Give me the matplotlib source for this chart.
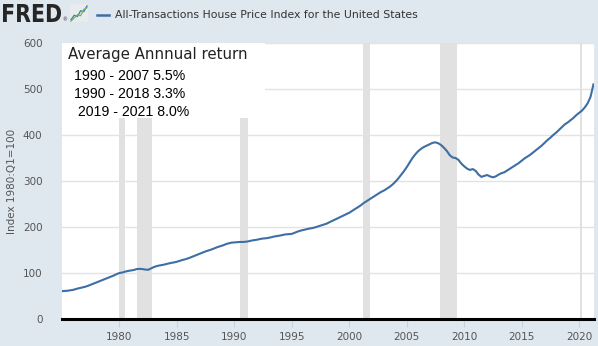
"""FRED-style chart: All-Transactions House Price Index for the United States."""

import matplotlib
matplotlib.use("Agg")
import matplotlib.pyplot as plt
import numpy as np
from matplotlib.font_manager import FontProperties
from matplotlib.patches import PathPatch
from matplotlib.textpath import TextPath
from matplotlib.transforms import Affine2D

# --- data: quarterly index values (1980:Q1 = 100), 1975Q1 .. 2021Q2 ---
START_YEAR = 1975
hpi = [
    60.5, 61.0, 61.5, 62.5,      # 1975
    63.5, 65.5, 67.0, 68.5,      # 1976
    70.0, 72.0, 74.5, 77.0,      # 1977
    79.5, 82.0, 84.5, 87.0,      # 1978
    89.5, 92.0, 94.5, 97.5,      # 1979
    100.0, 101.0, 103.0, 104.5,  # 1980
    105.5, 106.5, 108.5, 109.0,  # 1981
    108.5, 107.5, 107.0, 110.0,  # 1982
    113.0, 115.0, 116.5, 117.5,  # 1983
    119.0, 120.5, 122.0, 123.0,  # 1984
    124.5, 126.5, 128.5, 130.0,  # 1985
    132.0, 134.5, 137.0, 139.5,  # 1986
    142.0, 144.5, 147.0, 149.0,  # 1987
    151.0, 153.5, 156.0, 158.0,  # 1988
    160.0, 162.5, 164.5, 166.0,  # 1989
    166.5, 167.0, 167.5, 167.5,  # 1990
    168.0, 169.0, 170.5, 171.5,  # 1991
    172.5, 174.0, 175.0, 175.5,  # 1992
    176.5, 178.0, 179.5, 180.5,  # 1993
    181.5, 183.0, 184.0, 184.5,  # 1994
    185.0, 187.5, 190.0, 192.0,  # 1995
    193.5, 195.0, 196.5, 197.5,  # 1996
    199.0, 201.0, 203.0, 205.0,  # 1997
    207.0, 210.0, 213.0, 216.0,  # 1998
    219.0, 222.0, 225.0, 228.0,  # 1999
    231.0, 235.0, 239.0, 243.0,  # 2000
    247.0, 252.0, 256.0, 260.0,  # 2001
    264.0, 268.0, 272.0, 276.0,  # 2002
    279.0, 283.0, 287.0, 292.0,  # 2003
    298.0, 305.0, 313.0, 321.0,  # 2004
    330.0, 340.0, 350.0, 358.0,  # 2005
    365.0, 370.0, 374.0, 377.0,  # 2006
    380.0, 383.0, 384.0, 382.0,  # 2007
    378.0, 372.0, 365.0, 356.0,  # 2008
    351.0, 350.0, 346.0, 338.0,  # 2009
    332.0, 327.0, 324.0, 326.0,  # 2010
    322.0, 314.0, 309.0, 311.0,  # 2011
    313.0, 310.0, 308.0, 310.0,  # 2012
    314.0, 317.0, 319.0, 323.0,  # 2013
    327.0, 331.0, 335.0, 339.0,  # 2014
    344.0, 349.0, 353.0, 357.0,  # 2015
    362.0, 367.0, 372.0, 377.0,  # 2016
    383.0, 389.0, 394.0, 400.0,  # 2017
    405.0, 411.0, 417.0, 423.0,  # 2018
    427.0, 432.0, 437.0, 443.0,  # 2019
    448.0, 453.0, 460.0, 469.0,  # 2020
    483.0, 510.0,                # 2021
]

# NBER recessions (start, end) in decimal years
recession_start = [1980.0, 1981.5, 1990.5, 2001.17, 2007.92, 2020.08]
recession_end = [1980.5, 1982.83, 1991.17, 2001.83, 2009.42, 2020.25]

x_ticks = [1980, 1985, 1990, 1995, 2000, 2005, 2010, 2015, 2020]
y_ticks = [0, 100, 200, 300, 400, 500, 600]

title = "All-Transactions House Price Index for the United States"
y_label = "Index 1980:Q1=100"
box_title = "Average Annnual return"
box_lines = ["1990 - 2007 5.5%", "1990 - 2018 3.3%", " 2019 - 2021 8.0%"]

# small FRED logo icon (decorative)
icon_x = [0, 1, 2, 3, 4, 5]
icon_a = [0.5, 1.5, 1.2, 2.5, 2.3, 3.6]
icon_b = [0.2, 0.9, 1.6, 1.4, 2.8, 3.2]

# --- style ---
BG = "#dfe7ef"
LINE = "#3e6ea3"
SHADE = "#e1e1e1"
GRID = "#e3e3e3"
TICK_TXT = "#555555"
W, H = 598, 346

fig = plt.figure(figsize=(W / 100, H / 100), dpi=100, facecolor=BG)


def fx(px):
    return px / W


def fy(py):
    return 1 - py / H


ax = fig.add_axes([fx(62), fy(319), fx(594) - fx(62), fy(43) - fy(319)])
ax.set_facecolor("white")

dates = START_YEAR + np.arange(len(hpi)) / 4.0
for s, e in zip(recession_start, recession_end):
    ax.axvspan(s, e, color=SHADE, lw=0, zorder=1)

ax.plot(dates, hpi, color=LINE, lw=1.5, zorder=3, solid_joinstyle="round")

ax.set_xlim(START_YEAR, 2021.3)
ax.set_ylim(0, 600)
ax.set_yticks(y_ticks)
ax.set_xticks(x_ticks)
ax.grid(axis="y", color=GRID, lw=1.0, zorder=0)
ax.set_axisbelow(True)
for side in ["top", "right", "left"]:
    ax.spines[side].set_visible(False)
ax.spines["bottom"].set_color("black")
ax.spines["bottom"].set_linewidth(2.2)
ax.spines["bottom"].set_zorder(5)
ax.tick_params(axis="y", length=0, pad=14, labelsize=7.5, labelcolor=TICK_TXT)
ax.tick_params(axis="x", length=6, width=0.8, color="#c5d3e0", pad=3,
               labelsize=7.5, labelcolor=TICK_TXT)
ax.set_ylabel(y_label, fontsize=7.5, color=TICK_TXT, labelpad=4)

# pasted annotation box (white patch covering top-left of the plot)
fig.patches.append(plt.Rectangle((fx(62), fy(118)), fx(265) - fx(62),
                                 fy(43) - fy(118), transform=fig.transFigure,
                                 facecolor="white", edgecolor="none", zorder=10))
fig.text(fx(68), fy(55), box_title, fontsize=10.8, color="#222222",
         family="DejaVu Sans", va="center", zorder=11)
for i, line in enumerate(box_lines):
    fig.text(fx(74), fy(76 + 18 * i), line, fontsize=10.2, color="black",
             family="Liberation Sans", va="center", zorder=11)

# header: FRED logo (condensed heavy word-mark), icon, legend line and title
logo = TextPath((0, 0), "FRED", size=1,
                prop=FontProperties(family="DejaVu Sans", weight="heavy"))
ext = logo.get_extents()
lx0, lx1, ltop, lbot = 3, 61, 4, 22   # target box in pixels
sx = (lx1 - lx0) / ext.width / W
sy = (lbot - ltop) / ext.height / H
logo_tr = (Affine2D().translate(-ext.x0, -ext.y0).scale(sx, sy)
           .translate(fx(lx0), fy(lbot)) + fig.transFigure)
fig.patches.append(PathPatch(logo, transform=logo_tr, facecolor="#262626",
                             edgecolor="none"))
fig.text(fx(62), fy(20), "®", fontsize=3.5, color="#262626", va="center")

iax = fig.add_axes([fx(70), fy(22), fx(88) - fx(70), fy(4) - fy(22)])
iax.set_facecolor("#e9ecee")
iax.plot(icon_x, icon_a, color="#3d7ab8", lw=0.9)
iax.plot(icon_x, icon_b, color="#7cb342", lw=0.9)
iax.set_xlim(-0.3, 5.3)
iax.set_ylim(0, 4)
iax.set_xticks([])
iax.set_yticks([])
for sp in iax.spines.values():
    sp.set_visible(False)

fig.add_artist(plt.Line2D([fx(97), fx(109)], [fy(15), fy(15)],
                          transform=fig.transFigure, color=LINE, lw=1.8))
fig.text(fx(115), fy(15), title, fontsize=7.8, color="#333333", va="center")

fig.savefig("out.png", dpi=100, facecolor=BG)
